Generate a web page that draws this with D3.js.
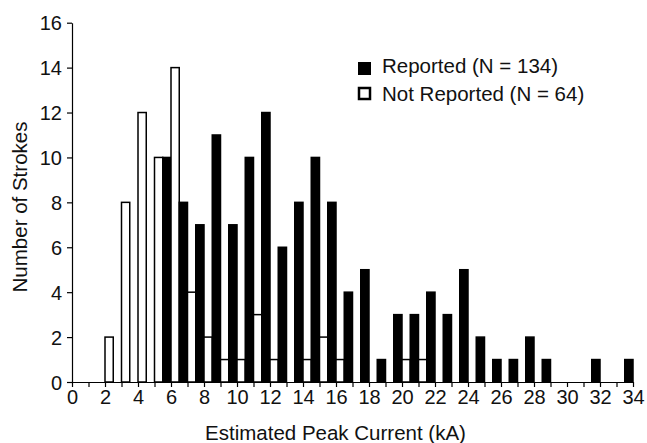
<!DOCTYPE html>
<html>
<head>
<meta charset="utf-8">
<script src="https://cdn.jsdelivr.net/npm/d3@7"></script>
<style>
  body { margin: 0; background: #fff; }
  svg { display: block; font-family: "Liberation Sans", Arial, sans-serif; }
  .axis path, .axis line { stroke: #000; stroke-width: 1.2; }
  .axis text { font-size: 20px; fill: #111; }
</style>
</head>
<body>
<div id="chart"></div>
<script>
// bins are 1 kA wide, keyed by their lower edge
var bins = d3.range(0, 34);
var series = ['Not Reported', 'Reported'];
var reported = [0,0,0,0,0,10,8,7,11,7,10,12,6,8,10,8,4,5,1,3,3,4,3,5,2,1,1,2,1,0,0,1,0,1];
var notReported = [0,0,2,8,12,10,14,4,2,1,1,3,1,0,1,2,1,0,0,0,1,1,0,0,0,0,0,0,0,0,0,0,0,0];
var xTicks = d3.range(0, 35);
var yTicks = d3.range(0, 17, 2);
var legendItems = ['Reported (N = 134)', 'Not Reported (N = 64)'];

var width = 647, height = 443;
var margin = {top: 22.7, right: 14, bottom: 61, left: 72};

var svg = d3.select('#chart').append('svg')
    .attr('width', width)
    .attr('height', height);

var x = d3.scaleLinear().domain([0, 34]).range([margin.left, width - margin.right]);
var y = d3.scaleLinear().domain([0, 16]).range([height - margin.bottom, margin.top]);

var binScale = d3.scaleBand().domain(bins).range([x(0), x(34)]).padding(0);
var seriesScale = d3.scaleBand().domain(series).range([0, binScale.bandwidth()]).padding(0);

var rows = bins.map(function(b, i) {
    return {bin: b, values: [
        {name: 'Not Reported', value: notReported[i]},
        {name: 'Reported', value: reported[i]}
    ]};
});

var groups = svg.append('g').selectAll('g')
    .data(rows)
    .enter().append('g')
    .attr('transform', function(d) { return 'translate(' + binScale(d.bin) + ',0)'; });

groups.selectAll('rect')
    .data(function(d) { return d.values.filter(function(v) { return v.value > 0; }); })
    .enter().append('rect')
    .attr('x', function(d) { return seriesScale(d.name); })
    .attr('width', seriesScale.bandwidth())
    .attr('y', function(d) { return y(d.value); })
    .attr('height', function(d) { return y(0) - y(d.value); })
    .attr('fill', function(d) { return d.name === 'Reported' ? '#000' : '#fff'; })
    .attr('stroke', '#000')
    .attr('stroke-width', 1.5);

svg.append('g')
    .attr('class', 'axis')
    .attr('transform', 'translate(0,' + y(0) + ')')
    .call(d3.axisBottom(x).tickValues(xTicks).tickSize(5).tickSizeOuter(0).tickPadding(3)
        .tickFormat(function(d) { return d % 2 === 0 ? d : ''; }));

svg.append('g')
    .attr('class', 'axis')
    .attr('transform', 'translate(' + x(0) + ',0)')
    .call(d3.axisLeft(y).tickValues(yTicks).tickSize(5).tickSizeOuter(0).tickPadding(5))
    .selectAll('text').attr('dy', '0.36em');

svg.append('text')
    .attr('x', (x(0) + x(34)) / 2 - 17)
    .attr('y', 440)
    .attr('text-anchor', 'middle')
    .style('font-size', '20.5px')
    .attr('fill', '#111')
    .text('Estimated Peak Current (kA)');

svg.append('text')
    .attr('transform', 'translate(27,' + 207 + ') rotate(-90)')
    .attr('text-anchor', 'middle')
    .style('font-size', '20.5px')
    .attr('fill', '#111')
    .text('Number of Strokes');

var legend = svg.append('g').attr('transform', 'translate(358,62)');
legendItems.forEach(function(label, i) {
    var row = legend.append('g').attr('transform', 'translate(0,' + (i * 25) + ')');
    row.append('rect')
        .attr('x', i === 0 ? 0 : 1)
        .attr('y', i === 0 ? 0 : 1)
        .attr('width', i === 0 ? 13 : 11)
        .attr('height', i === 0 ? 13 : 11)
        .attr('fill', i === 0 ? '#000' : '#fff')
        .attr('stroke', '#000')
        .attr('stroke-width', i === 0 ? 0 : 2.5);
    row.append('text')
        .attr('x', 24)
        .attr('y', 11 + i * 3)
        .style('font-size', '20.5px')
        .attr('fill', '#111')
        .text(label);
});
</script>
</body>
</html>
